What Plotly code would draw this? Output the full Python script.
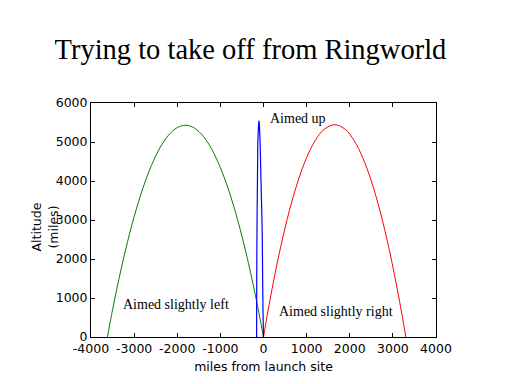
import plotly.graph_objects as go

# Data (miles)
left_x = [-3620, -3550, -3500, -3400, -3200, -3000, -2800, -2600, -2400, -2200, -2000,
          -1800, -1600, -1400, -1200, -1000, -800, -600, -400, -300, -200, -100, 0]
left_y = [0, 413, 696, 1240, 2227, 3083, 3805, 4396, 4853, 5178, 5370,
          5430, 5357, 5151, 4813, 4342, 3739, 3003, 2135, 1651, 1134, 583, 0]

up_x = [0, -12, -20, -28, -40, -58, -70, -81, -92, -100, -104, -110, -118, -128, -135, -140, -148, -154, -158, -160]
up_y = [0, 700, 1500, 2500, 3200, 4000, 4600, 5050, 5350, 5500, 5540, 5500, 5350, 5100, 4700, 4000, 3200, 2200, 1100, 0]

right_x = [0, 50, 100, 200, 400, 600, 800, 1000, 1200, 1400, 1650,
           1900, 2100, 2300, 2500, 2700, 2900, 3100, 3200, 3250, 3300]
right_y = [0, 325, 640, 1240, 2320, 3240, 4000, 4600, 5040, 5320, 5445,
           5320, 5040, 4600, 4000, 3240, 2320, 1240, 640, 325, 0]

x_ticks = [-4000, -3000, -2000, -1000, 0, 1000, 2000, 3000, 4000]
y_ticks = [0, 1000, 2000, 3000, 4000, 5000, 6000]

title_text = "Trying to take off from Ringworld"
x_title = "miles from launch site"
y_title = "Altitude<br>(miles)"
labels = ["Aimed slightly left", "Aimed up", "Aimed slightly right"]
label_x = [-3304, 104, 306]
label_y = [830, 5600, 660]

fig = go.Figure()
fig.add_trace(go.Scatter(x=left_x, y=left_y, mode="lines",
                         line=dict(color="#008000", width=1, shape="spline"), showlegend=False))
fig.add_trace(go.Scatter(x=up_x, y=up_y, mode="lines",
                         line=dict(color="#0000ff", width=1.2, shape="spline"), showlegend=False))
fig.add_trace(go.Scatter(x=right_x, y=right_y, mode="lines",
                         line=dict(color="#ff0000", width=1, shape="spline"), showlegend=False))

for t, ax_, ay_ in zip(labels, label_x, label_y):
    fig.add_annotation(x=ax_, y=ay_, text=t, showarrow=False, xanchor="left", yanchor="middle",
                       font=dict(family="Liberation Serif", size=14, color="black"))

fig.add_annotation(xref="paper", yref="paper", x=-0.135, y=0.47, text=y_title, showarrow=False,
                   textangle=-90, xanchor="center", yanchor="middle",
                   font=dict(family="DejaVu Sans", size=12.5, color="black"))

axis_common = dict(showline=True, linecolor="black", linewidth=1, mirror="allticks",
                   ticks="inside", ticklen=4, tickcolor="black", showgrid=False, zeroline=False,
                   tickfont=dict(family="DejaVu Sans", size=12.5, color="black"))

fig.update_xaxes(range=[-4000, 4000], tickvals=x_ticks, ticktext=[str(v) for v in x_ticks],
                 title=dict(text=x_title, standoff=7,
                            font=dict(family="DejaVu Sans", size=12.5, color="black")),
                 **axis_common)
fig.update_yaxes(range=[0, 6000], tickvals=y_ticks, ticktext=[str(v) for v in y_ticks],
                 **axis_common)

fig.update_layout(
    width=504, height=376,
    margin=dict(l=83, r=76, t=95, b=47),
    paper_bgcolor="white", plot_bgcolor="white",
    title=dict(text=title_text, x=0.481, xanchor="center", xref="container",
               y=1 - 41 / 376, yanchor="middle", yref="container",
               font=dict(family="Liberation Serif", size=28.5, color="black")),
)

fig.write_html("out.html")
